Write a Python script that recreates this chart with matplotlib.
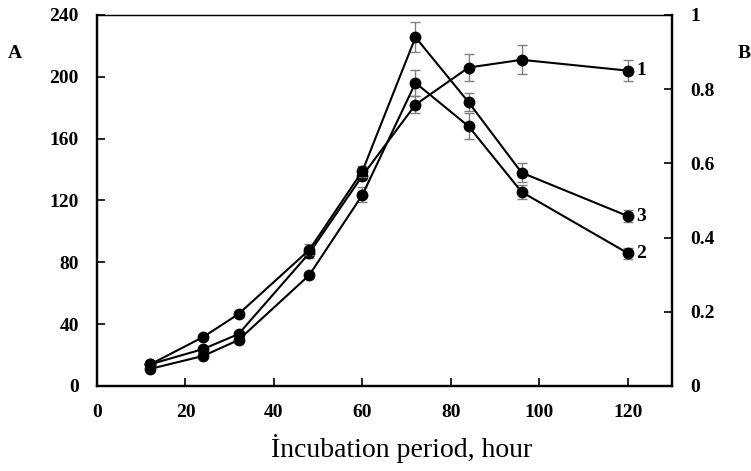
import numpy as np
import matplotlib
matplotlib.use("Agg")
import matplotlib.pyplot as plt

plt.rcParams['font.family'] = ['Liberation Serif', 'DejaVu Serif']

hours = [12, 24, 32, 48, 60, 72, 84, 96, 120]

# curve 1 -> left axis (A)
s1 = [14, 23.9, 33.6, 86, 136, 182, 206, 211, 204]
e1 = [1.5, 1.5, 1.5, 3, 3, 5.5, 9, 9.5, 7]
# curves 2 and 3 -> right axis (B)
s2 = [0.046, 0.081, 0.124, 0.299, 0.515, 0.817, 0.70, 0.523, 0.358]
e2 = [0.005, 0.005, 0.006, 0.008, 0.02, 0.035, 0.035, 0.018, 0.015]
s3 = [0.058, 0.132, 0.194, 0.367, 0.579, 0.94, 0.765, 0.575, 0.458]
e3 = [0.005, 0.005, 0.008, 0.015, 0.015, 0.04, 0.025, 0.025, 0.015]

fig = plt.figure(figsize=(7.51, 4.71), dpi=100)
ax = fig.add_axes([0.1292, 0.1805, 0.7656, 0.7877])
ax2 = ax.twinx()

def draw(a, y, e):
	a.errorbar(hours, y, yerr=e, fmt='none', ecolor='#808080', elinewidth=1,
		capsize=3.5, capthick=1, zorder=2)
	a.plot(hours, y, '-o', color='black', lw=1.5, ms=7.5, zorder=3)

draw(ax, s1, e1)
draw(ax2, s2, e2)
draw(ax2, s3, e3)

ax.set_xlim(0, 130)
ax.set_ylim(0, 240)
ax2.set_ylim(0, 1)
ax.set_xticks(np.arange(0, 121, 20))
ax.set_yticks(np.arange(0, 241, 40))
ax2.set_yticks([0, 0.2, 0.4, 0.6, 0.8, 1.0])
ax2.set_yticklabels(['0', '0.2', '0.4', '0.6', '0.8', '1'])

for a in (ax, ax2):
	a.tick_params(direction='in', length=6, width=1.2, labelsize=14, pad=13)
	for lab in a.get_xticklabels() + a.get_yticklabels():
		lab.set_fontweight('bold')
	for side in ('left', 'right', 'bottom'):
		a.spines[side].set_linewidth(1.6)
	a.spines['top'].set_linewidth(0.9)
ax.tick_params(axis='x', pad=13)

# curve numbers
ax.text(122, s1[-1], '1', fontsize=14, fontweight='bold', va='center', ha='left')
ax2.text(122, s2[-1], '2', fontsize=14, fontweight='bold', va='center', ha='left')
ax2.text(122, s3[-1], '3', fontsize=14, fontweight='bold', va='center', ha='left')

fig.text(15 / 751, 1 - 53 / 471, 'A', fontsize=14, fontweight='bold', ha='center', va='center')
fig.text(744 / 751, 1 - 54 / 471, 'B', fontsize=14, fontweight='bold', ha='center', va='center')
fig.text(402 / 751, 1 - 449 / 471, 'İncubation period, hour', fontsize=20, ha='center', va='center')

fig.savefig('out.png', dpi=100)
